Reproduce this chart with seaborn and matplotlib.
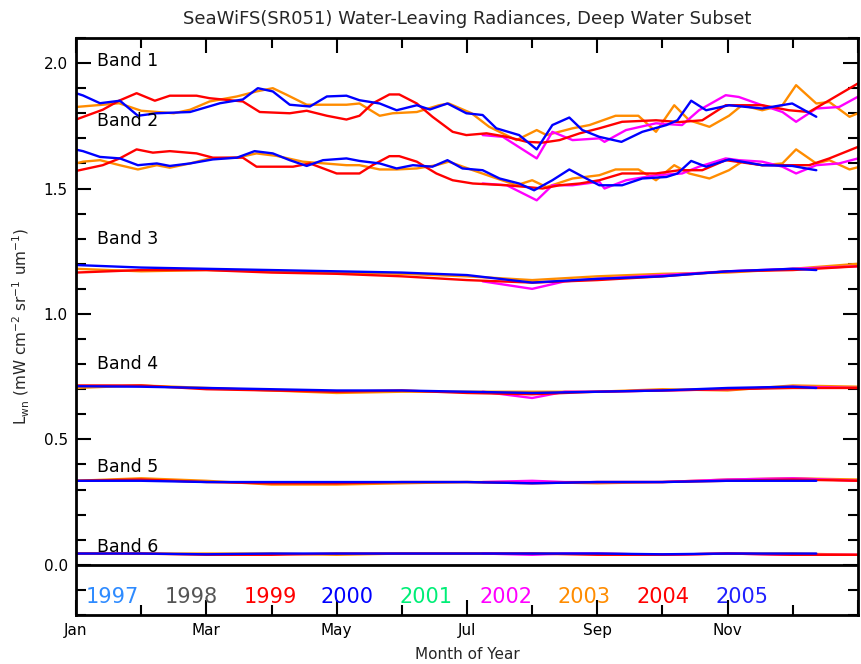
import numpy as np
import pandas as pd
import matplotlib
matplotlib.use("Agg")
import matplotlib.pyplot as plt
import seaborn as sns
from matplotlib.ticker import FixedLocator, MultipleLocator, FormatStrFormatter

# ---------------- text ----------------
TITLE = "SeaWiFS(SR051) Water-Leaving Radiances, Deep Water Subset"
X_LABEL = "Month of Year"
Y_LABEL = r"L$_{\mathrm{wn}}$ (mW cm$^{-2}$ sr$^{-1}$ um$^{-1}$)"
MONTH_MAJOR = [1, 3, 5, 7, 9, 11, 13]
MONTH_MAJOR_LABELS = ["Jan", "Mar", "May", "Jul", "Sep", "Nov", ""]
MONTH_MINOR = [2, 4, 6, 8, 10, 12]
BAND_NAMES = ["Band 1", "Band 2", "Band 3", "Band 4", "Band 5", "Band 6"]
BAND_LABEL_Y = [2.008, 1.769, 1.30, 0.80, 0.39, 0.07]
LEGEND_YEARS = ["1997", "1998", "1999", "2000", "2001", "2002", "2003", "2004", "2005"]
LEGEND_X = [1.15, 2.36, 3.57, 4.75, 5.97, 7.19, 8.39, 9.60, 10.81]
LEGEND_COLORS = ["#2E8BFF", "#555555", "#FF0000", "#0000FF", "#00EE77",
                 "#FF00FF", "#FF8C00", "#FF0000", "#2020FF"]
SERIES_ORDER = ["2003", "2002", "2004", "2005"]
SERIES_COLORS = {"2003": "#FF8C00", "2002": "#FF00FF", "2004": "#FF0000", "2005": "#0000FF"}

# ---------------- data (month of year, radiance) ----------------
# Band 1
B1_BLUE_X = [1.0, 1.107, 1.368, 1.674, 1.95, 2.24, 2.75, 3.21, 3.56, 3.79, 4.02, 4.28, 4.59, 4.85, 5.15,
             5.35, 5.66, 5.92, 6.23, 6.43, 6.70, 6.99, 7.24, 7.45, 7.80, 8.07, 8.31, 8.57, 8.77, 9.03,
             9.37, 9.69, 10.06, 10.23, 10.44, 10.67, 11.02, 11.53, 11.99, 12.36]
B1_BLUE_Y = [1.88, 1.871, 1.84, 1.85, 1.79, 1.80, 1.805, 1.84, 1.855, 1.90, 1.887, 1.834, 1.827, 1.867, 1.87,
             1.852, 1.839, 1.812, 1.832, 1.815, 1.839, 1.80, 1.793, 1.74, 1.713, 1.656, 1.753, 1.783, 1.733, 1.706,
             1.686, 1.726, 1.753, 1.772, 1.85, 1.812, 1.832, 1.819, 1.839, 1.786]
B1_RED_X = [1.0, 1.41, 1.66, 1.93, 2.21, 2.44, 2.85, 3.05, 3.56, 3.82, 4.28, 4.54, 4.85, 5.15, 5.35,
            5.55, 5.81, 5.96, 6.23, 6.47, 6.78, 6.99, 7.30, 7.61, 7.92, 8.16, 8.42, 8.73, 9.03, 9.38,
            9.90, 10.26, 10.61, 10.97, 11.53, 11.94, 12.25, 12.56, 13.0]
B1_RED_Y = [1.775, 1.814, 1.85, 1.88, 1.85, 1.87, 1.87, 1.86, 1.847, 1.805, 1.80, 1.81, 1.79, 1.775, 1.79,
            1.839, 1.875, 1.875, 1.839, 1.786, 1.726, 1.713, 1.72, 1.706, 1.686, 1.683, 1.693, 1.72, 1.74, 1.766,
            1.772, 1.765, 1.772, 1.832, 1.832, 1.812, 1.805, 1.852, 1.919]
B1_ORANGE_X = [1.0, 1.41, 1.66, 2.0, 2.5, 2.75, 3.05, 3.47, 3.77, 4.02, 4.23, 4.54, 5.15, 5.35, 5.66,
               5.86, 6.23, 6.57, 6.72, 7.07, 7.34, 7.76, 8.07, 8.22, 8.62, 8.88, 9.28, 9.63, 9.90, 10.18,
               10.41, 10.72, 11.02, 11.22, 11.53, 11.84, 12.05, 12.36, 12.56, 12.87, 13.0]
B1_ORANGE_Y = [1.825, 1.834, 1.84, 1.81, 1.80, 1.814, 1.847, 1.867, 1.887, 1.90, 1.874, 1.834, 1.834, 1.839, 1.79,
               1.80, 1.805, 1.832, 1.839, 1.80, 1.746, 1.693, 1.733, 1.713, 1.74, 1.753, 1.79, 1.79, 1.726, 1.832,
               1.772, 1.746, 1.79, 1.832, 1.812, 1.832, 1.912, 1.839, 1.845, 1.786, 1.80]
B1_MAGENTA_X = [7.24, 7.55, 8.07, 8.31, 8.62, 9.03, 9.11, 9.44, 9.90, 10.30, 10.56, 10.97, 11.17, 11.53,
                11.84, 12.05, 12.36, 12.71, 13.0]
B1_MAGENTA_Y = [1.713, 1.706, 1.62, 1.726, 1.693, 1.70, 1.686, 1.733, 1.76, 1.753, 1.812, 1.872, 1.865, 1.832,
                1.805, 1.766, 1.819, 1.825, 1.866]

# Band 2
B2_BLUE_X = [1.0, 1.107, 1.368, 1.674, 1.95, 2.24, 2.44, 2.75, 3.10, 3.47, 3.74, 4.02, 4.28, 4.54, 4.79,
             5.15, 5.35, 5.66, 5.92, 6.17, 6.47, 6.70, 6.93, 7.24, 7.50, 7.80, 8.03, 8.31, 8.57, 8.83,
             9.03, 9.38, 9.69, 10.06, 10.23, 10.44, 10.67, 11.02, 11.53, 11.99, 12.36]
B2_BLUE_Y = [1.655, 1.649, 1.626, 1.62, 1.593, 1.60, 1.59, 1.60, 1.616, 1.623, 1.649, 1.64, 1.613, 1.59, 1.613,
             1.62, 1.61, 1.60, 1.58, 1.593, 1.587, 1.613, 1.58, 1.573, 1.54, 1.52, 1.493, 1.533, 1.576, 1.54,
             1.513, 1.513, 1.54, 1.546, 1.56, 1.61, 1.587, 1.616, 1.593, 1.59, 1.573]
B2_RED_X = [1.0, 1.107, 1.41, 1.67, 1.93, 2.18, 2.44, 2.85, 3.10, 3.56, 3.77, 4.33, 4.59, 5.00, 5.35,
            5.55, 5.81, 5.96, 6.23, 6.53, 6.78, 7.09, 7.61, 7.92, 8.16, 8.42, 8.73, 9.03, 9.38, 9.90,
            10.26, 10.61, 10.97, 11.53, 11.94, 12.25, 12.56, 13.0]
B2_RED_Y = [1.57, 1.576, 1.593, 1.62, 1.656, 1.643, 1.649, 1.64, 1.623, 1.623, 1.587, 1.587, 1.60, 1.56, 1.56,
            1.593, 1.629, 1.629, 1.607, 1.56, 1.533, 1.52, 1.513, 1.506, 1.50, 1.513, 1.52, 1.533, 1.56, 1.56,
            1.573, 1.573, 1.613, 1.593, 1.593, 1.593, 1.62, 1.666]
B2_ORANGE_X = [1.0, 1.107, 1.37, 1.67, 1.95, 2.24, 2.44, 2.75, 3.05, 3.47, 3.77, 4.08, 4.48, 5.15, 5.35,
               5.66, 5.92, 6.23, 6.53, 6.72, 7.09, 7.39, 7.76, 8.00, 8.22, 8.62, 9.03, 9.28, 9.63, 9.90,
               10.18, 10.41, 10.72, 11.02, 11.22, 11.53, 11.84, 12.05, 12.36, 12.56, 12.87, 13.0]
B2_ORANGE_Y = [1.60, 1.607, 1.613, 1.593, 1.576, 1.593, 1.583, 1.60, 1.62, 1.623, 1.64, 1.63, 1.607, 1.593, 1.593,
               1.576, 1.576, 1.58, 1.593, 1.607, 1.573, 1.546, 1.513, 1.533, 1.506, 1.54, 1.553, 1.576, 1.576, 1.533,
               1.593, 1.56, 1.54, 1.573, 1.607, 1.593, 1.60, 1.656, 1.60, 1.613, 1.576, 1.585]
B2_MAGENTA_X = [7.24, 7.61, 8.07, 8.31, 8.62, 9.03, 9.11, 9.44, 9.90, 10.30, 10.56, 10.97, 11.17, 11.53,
                11.84, 12.05, 12.36, 12.71, 13.0]
B2_MAGENTA_Y = [1.52, 1.513, 1.453, 1.513, 1.513, 1.527, 1.50, 1.533, 1.553, 1.56, 1.587, 1.62, 1.613, 1.607,
                1.587, 1.56, 1.593, 1.60, 1.62]

# Bands 3-6 (monthly readings)
FULL_X = [1, 2, 3, 4, 5, 6, 7, 8, 9, 10, 11, 12, 13]
BLUE_X = [1, 2, 3, 4, 5, 6, 7, 8, 9, 10, 11, 12, 12.36]
MAGENTA_X = [7.24, 8, 8.5, 9, 10, 11, 12, 13]

B3_BLUE_Y = [1.195, 1.185, 1.18, 1.175, 1.17, 1.165, 1.155, 1.125, 1.14, 1.15, 1.17, 1.18, 1.175]
B3_RED_Y = [1.165, 1.175, 1.175, 1.165, 1.16, 1.15, 1.135, 1.125, 1.135, 1.15, 1.17, 1.175, 1.19]
B3_ORANGE_Y = [1.18, 1.17, 1.175, 1.17, 1.165, 1.16, 1.15, 1.135, 1.15, 1.16, 1.165, 1.18, 1.20]
B3_MAGENTA_Y = [1.13, 1.10, 1.13, 1.14, 1.155, 1.17, 1.18, 1.19]

B4_BLUE_Y = [0.712, 0.71, 0.705, 0.70, 0.695, 0.695, 0.69, 0.685, 0.69, 0.695, 0.705, 0.71, 0.705]
B4_RED_Y = [0.715, 0.715, 0.70, 0.695, 0.69, 0.695, 0.685, 0.68, 0.69, 0.695, 0.70, 0.705, 0.705]
B4_ORANGE_Y = [0.705, 0.715, 0.705, 0.695, 0.685, 0.69, 0.69, 0.69, 0.69, 0.70, 0.695, 0.715, 0.71]
B4_MAGENTA_Y = [0.69, 0.665, 0.69, 0.69, 0.695, 0.70, 0.71, 0.705]

B5_BLUE_Y = [0.335, 0.335, 0.33, 0.33, 0.33, 0.33, 0.33, 0.325, 0.33, 0.33, 0.335, 0.335, 0.335]
B5_RED_Y = [0.335, 0.34, 0.33, 0.325, 0.325, 0.33, 0.33, 0.325, 0.33, 0.33, 0.335, 0.34, 0.335]
B5_ORANGE_Y = [0.335, 0.345, 0.335, 0.32, 0.32, 0.325, 0.33, 0.33, 0.325, 0.33, 0.34, 0.345, 0.34]
B5_MAGENTA_Y = [0.33, 0.335, 0.33, 0.33, 0.33, 0.34, 0.345, 0.335]

B6_BLUE_Y = [0.045, 0.045, 0.042, 0.045, 0.045, 0.045, 0.045, 0.045, 0.045, 0.042, 0.045, 0.045, 0.045]
B6_RED_Y = [0.045, 0.045, 0.04, 0.04, 0.045, 0.045, 0.045, 0.045, 0.04, 0.04, 0.045, 0.04, 0.04]
B6_ORANGE_Y = [0.045, 0.045, 0.045, 0.045, 0.04, 0.045, 0.045, 0.045, 0.045, 0.04, 0.045, 0.045, 0.04]
B6_MAGENTA_Y = [0.045, 0.04, 0.045, 0.045, 0.04, 0.045, 0.04, 0.04]

# ---------------- build table ----------------
rows = []
def add(band, series, xs, ys):
    for x, y in zip(xs, ys):
        rows.append({"band": band, "series": series, "month": x, "value": y})

add(1, "2005", B1_BLUE_X, B1_BLUE_Y); add(1, "2004", B1_RED_X, B1_RED_Y)
add(1, "2003", B1_ORANGE_X, B1_ORANGE_Y); add(1, "2002", B1_MAGENTA_X, B1_MAGENTA_Y)
add(2, "2005", B2_BLUE_X, B2_BLUE_Y); add(2, "2004", B2_RED_X, B2_RED_Y)
add(2, "2003", B2_ORANGE_X, B2_ORANGE_Y); add(2, "2002", B2_MAGENTA_X, B2_MAGENTA_Y)
for b, (bl, rd, orn, mg) in zip([3, 4, 5, 6],
                                [(B3_BLUE_Y, B3_RED_Y, B3_ORANGE_Y, B3_MAGENTA_Y),
                                 (B4_BLUE_Y, B4_RED_Y, B4_ORANGE_Y, B4_MAGENTA_Y),
                                 (B5_BLUE_Y, B5_RED_Y, B5_ORANGE_Y, B5_MAGENTA_Y),
                                 (B6_BLUE_Y, B6_RED_Y, B6_ORANGE_Y, B6_MAGENTA_Y)]):
    add(b, "2005", BLUE_X, bl); add(b, "2004", FULL_X, rd)
    add(b, "2003", FULL_X, orn); add(b, "2002", MAGENTA_X, mg)
df = pd.DataFrame(rows)

# ---------------- plot ----------------
sns.set_style("ticks")
plt.rcParams["font.family"] = ["DejaVu Sans"]

fig = plt.figure(figsize=(8.61, 6.64), dpi=100)
ax = fig.add_axes([76 / 861, 1 - 615 / 664, (858 - 76) / 861, (615 - 38) / 664])

for b in range(1, 7):
    sub = df[df["band"] == b]
    sns.lineplot(data=sub, x="month", y="value", hue="series", hue_order=SERIES_ORDER,
                 palette=SERIES_COLORS, estimator=None, legend=False, linewidth=1.7, ax=ax)

ax.axhline(0.0, color="black", linewidth=2.0, zorder=5)

for name, yv in zip(BAND_NAMES, BAND_LABEL_Y):
    ax.text(1.32, yv, name, fontsize=12.5, color="black", va="center", ha="left", zorder=10)

for yr, xv, c in zip(LEGEND_YEARS, LEGEND_X, LEGEND_COLORS):
    ax.text(xv, -0.13, yr, fontsize=15, color=c, va="center", ha="left")

ax.set_xlim(1, 13)
ax.set_ylim(-0.2, 2.1)
ax.xaxis.set_major_locator(FixedLocator(MONTH_MAJOR))
ax.set_xticklabels(MONTH_MAJOR_LABELS)
ax.xaxis.set_minor_locator(FixedLocator(MONTH_MINOR))
ax.yaxis.set_major_locator(FixedLocator([0.0, 0.5, 1.0, 1.5, 2.0]))
ax.yaxis.set_major_formatter(FormatStrFormatter("%.1f"))
ax.yaxis.set_minor_locator(MultipleLocator(0.1))
ax.tick_params(which="both", direction="in", top=True, right=True, width=1.5, colors="black",
               labelsize=11)
ax.tick_params(which="major", length=11, pad=6)
ax.tick_params(which="minor", length=7)
for s in ax.spines.values():
    s.set_linewidth(2.0)
    s.set_color("black")

ax.set_title(TITLE, fontsize=13, pad=10)
ax.set_xlabel(X_LABEL, fontsize=11, labelpad=6)
ax.set_ylabel(Y_LABEL, fontsize=11, labelpad=8)

fig.savefig("out.png", dpi=100, facecolor="white")
